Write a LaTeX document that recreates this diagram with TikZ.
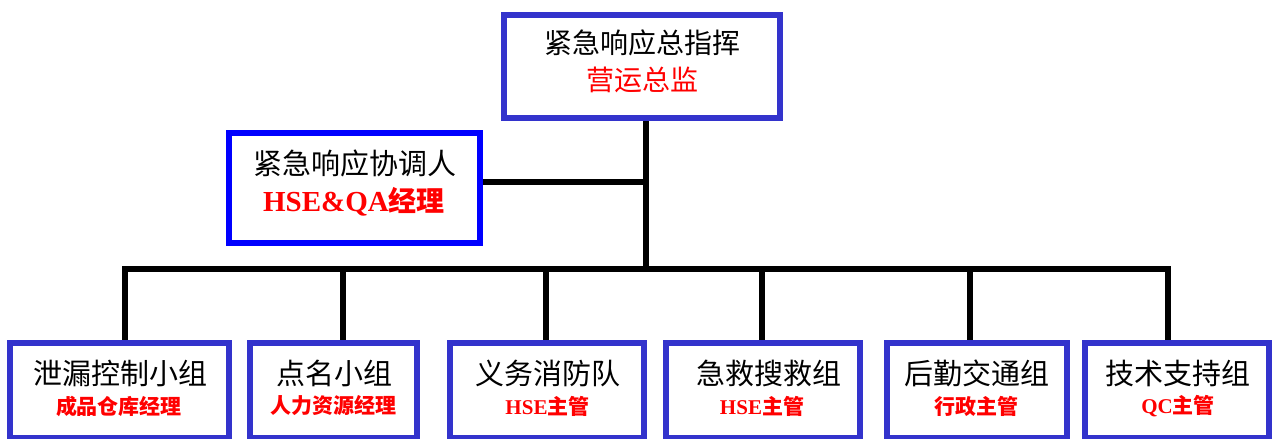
\documentclass[tikz,border=0pt]{standalone}
\usepackage{fontspec}
\newfontfamily\cjk{Noto Sans CJK SC}
\newfontfamily\tnr{Liberation Serif}
\definecolor{boxblue}{HTML}{3333CC}
\definecolor{pureblue}{HTML}{0000FF}
\definecolor{myred}{HTML}{FF0000}
\tikzset{
  orgbox/.style={draw=boxblue, line width=6pt, fill=white, inner sep=0pt},
  bottombox/.style={orgbox, minimum height=95pt},
  conn/.style={line width=6pt, draw=black},
  titletext/.style={inner sep=0pt, font=\cjk\fontsize{29}{34}\selectfont},
  toptext/.style={inner sep=0pt, font=\cjk\fontsize{28}{34}\selectfont},
  subtext/.style={inner sep=0pt, text=myred, font=\cjk\bfseries\fontsize{21}{25}\selectfont},
}
\begin{document}
\begin{tikzpicture}[x=1pt,y=-1pt]
\useasboundingbox (0,0) rectangle (1275,439);
% boxes
\node[orgbox, minimum width=276pt, minimum height=103pt] (top) at (642,66.5) {};
\node[orgbox, draw=pureblue, minimum width=251pt, minimum height=110pt] (coord) at (354.5,188) {};
\node[bottombox, minimum width=219pt] (b1) at (119.5,390.5) {};
\node[bottombox, minimum width=167pt] (b2) at (333.5,390.5) {};
\node[bottombox, minimum width=194pt] (b3) at (547,390.5) {};
\node[bottombox, minimum width=194pt] (b4) at (763,390.5) {};
\node[bottombox, minimum width=180pt] (b5) at (977,390.5) {};
\node[bottombox, minimum width=184pt] (b6) at (1177,390.5) {};
% texts
\node[toptext] (t0) at (642,43) {紧急响应总指挥};
\node[toptext, text=myred] (s0) at (642,80) {营运总监};
\node[titletext] (tc) at (355,163) {紧急响应协调人};
\node[inner sep=0pt, text=myred] (sc) at (354,202) {{\tnr\bfseries\fontsize{29}{34}\selectfont HSE\&QA}{\cjk\bfseries\fontsize{28}{34}\selectfont 经理}};
\node[titletext] (t1) at (120,373) {泄漏控制小组};
\node[subtext] (s1) at (119,406) {成品仓库经理};
\node[titletext] (t2) at (334,373) {点名小组};
\node[subtext] (s2) at (333,406) {人力资源经理};
\node[titletext] (t3) at (548,373) {义务消防队};
\node[subtext] (s3) at (547.5,406) {{\tnr\bfseries HSE}主管};
\node[titletext] (t4) at (769,373) {急救搜救组};
\node[subtext] (s4) at (762,406) {{\tnr\bfseries HSE}主管};
\node[titletext] (t5) at (977,373) {后勤交通组};
\node[subtext] (s5) at (976,406) {行政主管};
\node[titletext] (t6) at (1178,373) {技术支持组};
\node[subtext] (s6) at (1178,406) {{\tnr\bfseries QC}主管};
% connector points
\coordinate (hub) at (646,269);
\coordinate (cj) at (646,182);
\coordinate (barL) at (125,269);
\coordinate (barR) at (1168,269);
\coordinate (p2) at (343,269);
\coordinate (p3) at (546,269);
\coordinate (p4) at (762,269);
\coordinate (p5) at (970,269);
% connectors
\draw[conn] (top.south -| hub) -- (hub);
\draw[conn] (coord.east |- cj) -- ([xshift=3pt]cj);
\draw[conn] ([xshift=-3pt]barL) -- ([xshift=3pt]barR);
\draw[conn] (barL) -- (barL |- b1.north);
\draw[conn] (p2) -- (p2 |- b2.north);
\draw[conn] (p3) -- (p3 |- b3.north);
\draw[conn] (p4) -- (p4 |- b4.north);
\draw[conn] (p5) -- (p5 |- b5.north);
\draw[conn] (barR) -- (barR |- b6.north);
\end{tikzpicture}
\end{document}
